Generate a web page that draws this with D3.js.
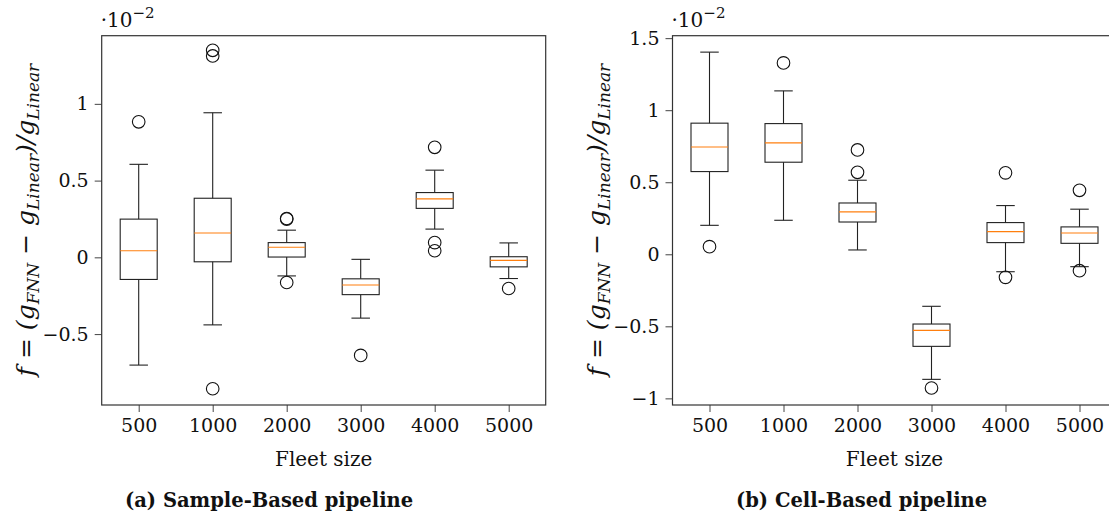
<!DOCTYPE html>
<html>
<head>
<meta charset="utf-8">
<script src="https://cdn.jsdelivr.net/npm/d3@7/dist/d3.min.js"></script>
<style>
  body { margin: 0; background: #fff; }
  svg { display: block; font-family: "DejaVu Serif", serif; }
</style>
</head>
<body>
<svg id="chart" width="1109" height="515"></svg>
<script>
// fleet sizes on the x axis
var fleetSizes = ["500", "1000", "2000", "3000", "4000", "5000"];

// (a) sample-based pipeline, values in units of 1e-2
var sampleWhiskLo = [-0.702, -0.440, -0.121, -0.396, 0.184, -0.138];
var sampleQ1      = [-0.144, -0.029,  0.002, -0.243, 0.319, -0.062];
var sampleMedian  = [ 0.043,  0.159,  0.066, -0.180, 0.381, -0.020];
var sampleQ3      = [ 0.249,  0.385,  0.096, -0.140, 0.422,  0.004];
var sampleWhiskHi = [ 0.606,  0.942,  0.177, -0.013, 0.568,  0.094];
var sampleFliers  = [[0.883], [1.349, 1.312, -0.856], [0.253, 0.249, -0.164], [-0.639], [0.717, 0.096, 0.043], [-0.203]];
var sampleTicks   = [-0.5, 0, 0.5, 1];

// (b) cell-based pipeline
var cellWhiskLo = [0.201, 0.236, 0.030, -0.868, -0.121, -0.086];
var cellQ1      = [0.574, 0.639, 0.224, -0.639,  0.081,  0.076];
var cellMedian  = [0.745, 0.773, 0.294, -0.528,  0.157,  0.148];
var cellQ3      = [0.910, 0.907, 0.356, -0.484,  0.220,  0.190];
var cellWhiskHi = [1.403, 1.134, 0.514, -0.361,  0.338,  0.313];
var cellFliers  = [[0.053], [1.328], [0.724, 0.569], [-0.928], [0.565, -0.160], [0.444, -0.114]];
var cellTicks   = [-1, -0.5, 0, 0.5, 1, 1.5];

var svg = d3.select("#chart");

function fmt(v) {
  return v < 0 ? "\u2212" + Math.abs(v) : String(v);
}

function makeBoxes(lo, q1, med, q3, hi, fliers) {
  return fleetSizes.map(function(s, i) {
    return {pos: i + 1, lo: lo[i], q1: q1[i], med: med[i], q3: q3[i], hi: hi[i], fliers: fliers[i]};
  });
}

function drawPanel(p) {
  var x = d3.scaleLinear().domain([0.5, 6.5]).range([p.left, p.left + 444]);
  var y = d3.scaleLinear().domain(p.yDomain).range([405, 35.7]);
  var g = svg.append("g");

  // axes
  var yAxis = d3.axisLeft(y).tickValues(p.ticks).tickFormat(fmt).tickSize(7).tickPadding(6);
  var gy = g.append("g").attr("transform", "translate(" + p.left + ",0)").call(yAxis);
  var xAxis = d3.axisBottom(x).tickValues(d3.range(1, 7)).tickFormat(function(d) { return fleetSizes[d - 1]; })
    .tickSize(7).tickPadding(7);
  var gx = g.append("g").attr("transform", "translate(0,405)").call(xAxis);
  [gx, gy].forEach(function(a) {
    a.select(".domain").remove();
    a.selectAll(".tick line").attr("stroke", "#444").attr("stroke-width", 1);
    a.selectAll(".tick text").attr("font-size", 19).attr("fill", "#111")
      .attr("font-family", "DejaVu Serif, serif");
  });

  // frame
  g.append("rect")
    .attr("x", p.left).attr("y", 35.7)
    .attr("width", 444).attr("height", 405 - 35.7)
    .attr("fill", "none").attr("stroke", "#333").attr("stroke-width", 1.2);

  var boxes = p.boxes;
  var hw = x(1.25) - x(1);
  var cw = x(1.125) - x(1);

  var b = g.selectAll(".box").data(boxes).enter().append("g").attr("class", "box");
  // whiskers
  b.append("line").attr("x1", function(d) { return x(d.pos); }).attr("x2", function(d) { return x(d.pos); })
    .attr("y1", function(d) { return y(d.q3); }).attr("y2", function(d) { return y(d.hi); })
    .attr("stroke", "#222").attr("stroke-width", 1.1);
  b.append("line").attr("x1", function(d) { return x(d.pos); }).attr("x2", function(d) { return x(d.pos); })
    .attr("y1", function(d) { return y(d.q1); }).attr("y2", function(d) { return y(d.lo); })
    .attr("stroke", "#222").attr("stroke-width", 1.1);
  // caps
  ["hi", "lo"].forEach(function(k) {
    b.append("line").attr("x1", function(d) { return x(d.pos) - cw; }).attr("x2", function(d) { return x(d.pos) + cw; })
      .attr("y1", function(d) { return y(d[k]); }).attr("y2", function(d) { return y(d[k]); })
      .attr("stroke", "#222").attr("stroke-width", 1.1);
  });
  // box
  b.append("rect")
    .attr("x", function(d) { return x(d.pos) - hw; })
    .attr("y", function(d) { return y(d.q3); })
    .attr("width", 2 * hw)
    .attr("height", function(d) { return y(d.q1) - y(d.q3); })
    .attr("fill", "none").attr("stroke", "#222").attr("stroke-width", 1.1);
  // median
  b.append("line").attr("x1", function(d) { return x(d.pos) - hw; }).attr("x2", function(d) { return x(d.pos) + hw; })
    .attr("y1", function(d) { return y(d.med); }).attr("y2", function(d) { return y(d.med); })
    .attr("stroke", "#ff7f0e").attr("stroke-width", 1.1);
  // fliers
  b.selectAll("circle").data(function(d) { return d.fliers.map(function(v) { return {pos: d.pos, v: v}; }); })
    .enter().append("circle")
    .attr("cx", function(d) { return x(d.pos); }).attr("cy", function(d) { return y(d.v); })
    .attr("r", 6.3).attr("fill", "none").attr("stroke", "#111").attr("stroke-width", 1.1);

  // offset text
  var off = g.append("text").attr("x", p.left - 1).attr("y", 27).attr("font-size", 20).attr("fill", "#111");
  off.append("tspan").text("\u00b710");
  off.append("tspan").attr("font-size", 15).attr("dy", -9).text("\u22122");

  // y label
  var yl = g.append("text").attr("transform", "translate(" + p.labelX + ",220) rotate(-90)")
    .attr("text-anchor", "middle").attr("font-size", 25).attr("fill", "#111").attr("font-style", "italic");
  yl.append("tspan").text("f = (g");
  yl.append("tspan").attr("font-size", 17).attr("dy", 5).text("FNN");
  yl.append("tspan").attr("dy", -5).text(" \u2212 g");
  yl.append("tspan").attr("font-size", 17).attr("dy", 5).text("Linear");
  yl.append("tspan").attr("dy", -5).text(")/g");
  yl.append("tspan").attr("font-size", 17).attr("dy", 5).text("Linear");

  // x label
  g.append("text").attr("x", p.left + 222).attr("y", 466).attr("text-anchor", "middle")
    .attr("font-size", 20).attr("fill", "#111").text("Fleet size");

  // caption
  g.append("text").attr("x", p.capX).attr("y", 507).attr("font-size", 19.5)
    .attr("font-weight", "bold").attr("fill", "#111").text(p.caption);
}

drawPanel({
  left: 101.7, yDomain: [-0.962, 1.444], ticks: sampleTicks, labelX: 34, capX: 125,
  caption: "(a) Sample-Based pipeline",
  boxes: makeBoxes(sampleWhiskLo, sampleQ1, sampleMedian, sampleQ3, sampleWhiskHi, sampleFliers)
});
drawPanel({
  left: 672.5, yDomain: [-1.046, 1.517], ticks: cellTicks, labelX: 605, capX: 736,
  caption: "(b) Cell-Based pipeline",
  boxes: makeBoxes(cellWhiskLo, cellQ1, cellMedian, cellQ3, cellWhiskHi, cellFliers)
});
</script>
</body>
</html>
